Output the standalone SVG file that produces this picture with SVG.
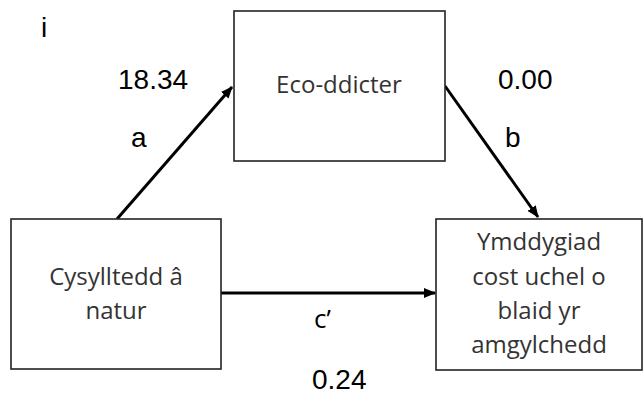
<svg xmlns="http://www.w3.org/2000/svg" width="643" height="396" viewBox="0 0 643 396">
<style>
.box{fill:#fff;stroke:#222;stroke-width:1.6}
.nt{font-family:"Open Sans","Noto Sans",sans-serif;font-size:24px;fill:#333;text-anchor:middle}
.lb{font-family:"Liberation Sans",Arial,sans-serif;font-size:28px;fill:#000}
.cal{font-family:"Open Sans","Noto Sans",sans-serif;font-size:26px;fill:#000}
.ar{stroke:#000;stroke-width:3;fill:none;marker-end:url(#ah)}
</style>
<defs>
<marker id="ah" markerWidth="12" markerHeight="10" refX="11" refY="5" orient="auto" markerUnits="userSpaceOnUse">
<path d="M0,0 L12,5 L0,10 Z" fill="#000"/>
</marker>
</defs>
<rect width="643" height="396" fill="#fff"/>
<g id="connectors">
<line class="ar" x1="117" y1="219" x2="232" y2="87"/>
<line class="ar" x1="445" y1="86" x2="538" y2="217"/>
<line class="ar" x1="221" y1="293" x2="435" y2="293"/>
</g>
<g id="node-eco">
<rect class="box" x="234" y="11" width="211" height="150"/>
<text class="nt" x="339" y="93">Eco-ddicter</text>
</g>
<g id="node-cysylltedd">
<rect class="box" x="11" y="219" width="210" height="150"/>
<text class="nt" x="116" y="285">Cysylltedd â</text>
<text class="nt" x="116" y="319">natur</text>
</g>
<g id="node-ymddygiad">
<rect class="box" x="436" y="219" width="206" height="151"/>
<text class="nt" x="539" y="250">Ymddygiad</text>
<text class="nt" x="539" y="285">cost uchel o</text>
<text class="nt" x="539" y="319">blaid yr</text>
<text class="nt" x="539" y="353">amgylchedd</text>
</g>
<g id="labels">
<text class="lb" x="41" y="37">i</text>
<text class="lb" x="118" y="89">18.34</text>
<text class="lb" x="131" y="147">a</text>
<text class="lb" x="498" y="89">0.00</text>
<text class="lb" x="505" y="147">b</text>
<text class="cal" x="314" y="328">c’</text>
<text class="lb" x="312" y="389">0.24</text>
</g>
</svg>
